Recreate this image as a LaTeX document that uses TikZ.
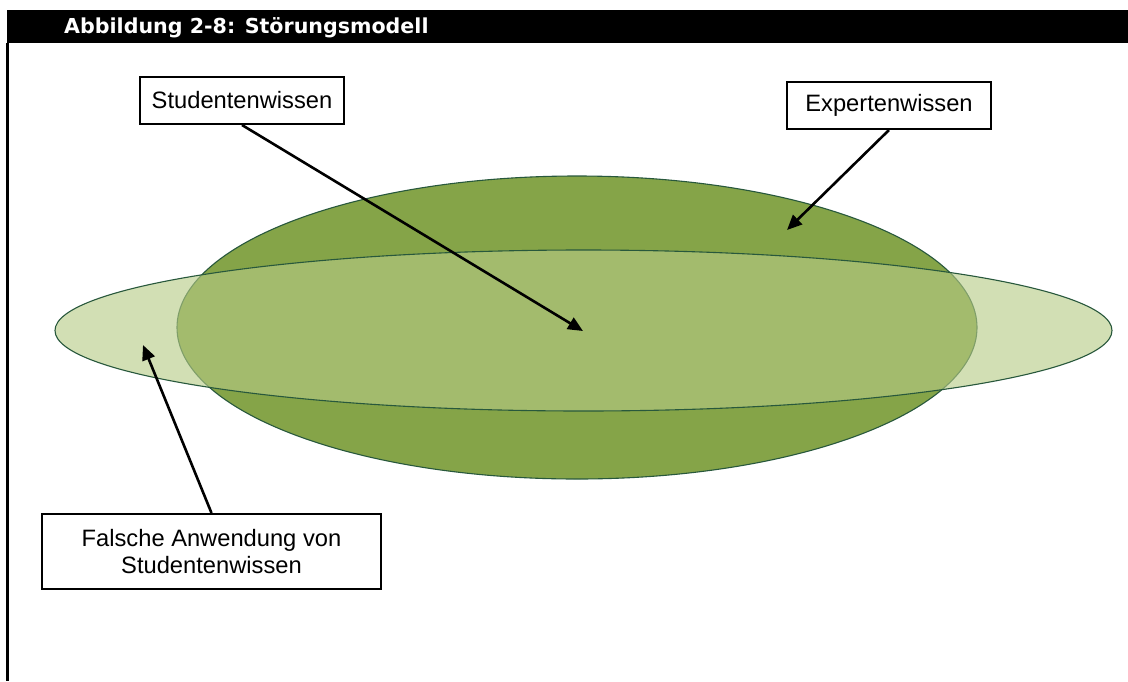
\documentclass[tikz,border=0pt]{standalone}
\usepackage{fontspec}
\setmainfont{Liberation Sans}
\newfontfamily\titlefont{DejaVu Sans}
\usetikzlibrary{arrows.meta}

\definecolor{darkolive}{RGB}{133,164,72}
\definecolor{paleolive}{RGB}{183,203,134}
\definecolor{rimgreen}{RGB}{40,88,60}

\tikzset{
  labelbox/.style={draw=black, line width=2pt, fill=white, inner sep=0pt,
    align=center, font=\fontsize{23.7pt}{27pt}\selectfont},
  pointer/.style={line width=2.6pt, -{Triangle[length=15pt,width=13pt]}},
  rim/.style={draw=rimgreen, line width=1.1pt}
}

\begin{document}
\begin{tikzpicture}[x=1pt,y=-1pt]
  % page frame
  \fill[white] (0,0) rectangle (1128,681);
  \useasboundingbox (0,0) rectangle (1128,681);

  % caption bar and left rule
  \fill[black] (6.7,10) rectangle (1128,43.3);
  \draw[line width=2.7pt] (7.5,43) -- (7.5,681);
  \node[anchor=base west, inner sep=0pt, text=white,
        font=\titlefont\bfseries\fontsize{20.6pt}{23pt}\selectfont]
        (title) at (64,33.3) {Abbildung 2-8: Störungsmodell};

  % expert knowledge (large ellipse) and student knowledge (flat ellipse)
  \filldraw[fill=darkolive, rim] (577,327.5) ellipse [x radius=400, y radius=151.5];
  \fill[paleolive, fill opacity=0.61] (583.5,330.5) ellipse [x radius=528.5, y radius=80.5];
  \draw[rim] (583.5,330.5) ellipse [x radius=528.5, y radius=80.5];

  % labels
  \node[labelbox, minimum width=204pt, minimum height=47pt] (sw) at (242,100.5) {Studentenwissen};
  \node[labelbox, minimum width=204pt, minimum height=47pt] (ew) at (889,105.5) {Expertenwissen};
  \node[labelbox, minimum width=339pt, minimum height=75pt] (fa) at (211.5,551.5)
        {Falsche Anwendung von\\Studentenwissen};

  % arrow tips
  \coordinate (swTip) at (583,331);
  \coordinate (ewTip) at (787,230);
  \coordinate (faTip) at (143,345);

  \draw[pointer] (sw.south) -- (swTip);
  \draw[pointer] (ew.south) -- (ewTip);
  \draw[pointer] (fa.north) -- (faTip);
\end{tikzpicture}
\end{document}
